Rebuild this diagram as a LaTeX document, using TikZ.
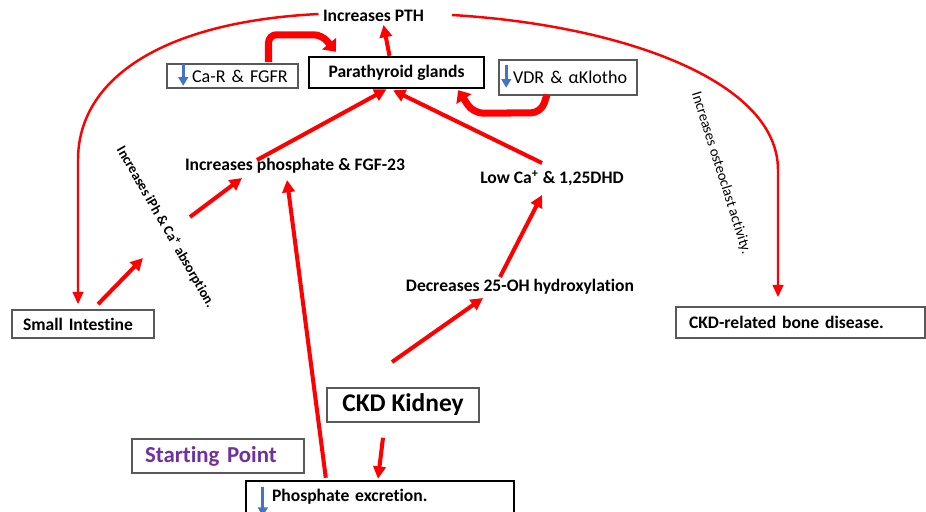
\documentclass[tikz,border=0pt]{standalone}
\usepackage{fontspec}
\setmainfont{Carlito}[Ligatures=NoCommon]
\usepackage{tikz}
\usetikzlibrary{arrows.meta, positioning, calc}
\usepackage{xcolor}
\definecolor{flowRed}   {HTML}{FF0000}
\definecolor{flowBlue}  {HTML}{4472C4}
\definecolor{flowPurple}{HTML}{7030A0}
\definecolor{boxGray}   {HTML}{595959}
\tikzset{
  box/.style    = {rectangle, draw=boxGray, line width=0.9pt, inner sep=0pt,
                   font=\fontsize{10.3}{12}\selectfont},
  bbox/.style   = {box, draw=black, line width=1.4pt,
                   font=\bfseries\fontsize{10}{12}\selectfont},
  label/.style  = {inner sep=1pt, font=\bfseries\fontsize{10}{12}\selectfont},
  redarr/.style = {-{Triangle[length=7pt, width=7pt]}, line width=2.3pt, color=flowRed},
  curvearr/.style={-{Triangle[length=7pt, width=6pt]}, line width=1.4pt, color=flowRed},
  fatarr/.style = {-{Triangle[length=6pt, width=10pt]}, line width=4pt, color=flowRed},
  bluearr/.style= {-{Triangle[length=5pt, width=5.5pt]}, line width=1.7pt, color=flowBlue},
}

\begin{document}
\begin{tikzpicture}[x=0.02cm, y=-0.02cm]
    \useasboundingbox (0,0) rectangle (926,511);

    % boxes
    \node[bbox, minimum width=3.5cm, minimum height=0.62cm] (glands) at (396.5,72.5)
      {Parathyroid glands};
    \node[box, minimum width=2.62cm, minimum height=0.48cm, text width=2.62cm, align=left]
      (carbox) at (232.5,76) {\hspace*{0.5cm}Ca-R \& FGFR};
    \node[box, minimum width=2.76cm, minimum height=0.7cm, text width=2.76cm, align=left]
      (vdr) at (568,77.5) {\hspace*{0.28cm}VDR \& αKlotho\\[3pt]};
    \node[box, font=\bfseries\fontsize{10}{12}\selectfont, minimum width=2.84cm,
      minimum height=0.56cm, text width=2.84cm, align=left]
      (intestine) at (83,324) {\hspace*{0.22cm}Small Intestine};
    \node[box, font=\bfseries\fontsize{10}{12}\selectfont, minimum width=4.98cm,
      minimum height=0.62cm, text width=4.98cm, align=left]
      (bone) at (800.5,322.5) {\hspace*{0.26cm}CKD-related bone disease.};
    \node[box, font=\bfseries\fontsize{14.5}{17}\selectfont, minimum width=3.04cm,
      minimum height=0.68cm] (kidney) at (403,405) {CKD Kidney};
    \node[box, font=\bfseries\fontsize{13}{15}\selectfont, text=flowPurple,
      minimum width=3.44cm, minimum height=0.68cm, text width=3.44cm, align=left]
      (start) at (218,456) {\hspace*{0.26cm}Starting Point};
    \node[bbox, minimum width=5.36cm, minimum height=0.64cm, text width=5.36cm, align=left]
      (excr) at (380,497) {\hspace*{0.52cm}Phosphate excretion.\\[2pt]};

    % plain labels
    \node[label] (pth)   at (373.5,16) {Increases PTH};
    \node[label] (phos)  at (295,166)  {Increases phosphate \& FGF-23};
    \node[label] (lowca) at (552,178)  {Low Ca\textsuperscript{+} \& 1,25DHD};
    \node[label] (decr)  at (520,287)  {Decreases 25-OH hydroxylation};
    \node[label, font=\bfseries\fontsize{8}{10}\selectfont, rotate=-60] (absorb) at (166,227)
      {Increases iPh \& Ca\textsuperscript{+} absorption.};
    \node[label, font=\fontsize{8.4}{10}\selectfont, rotate=-72.5] (osteo) at (721,173)
      {Increases osteoclast activity.};

    \coordinate (lbend) at (78,160);
    \coordinate (rbend) at (778,170);
    \coordinate (absorbA) at (143,258);
    \coordinate (absorbB) at (190,217);
    \coordinate (kidneyout) at (392,362);

    % red connectors
    \draw[redarr] ($(glands.north)+(-7,0)$) -- ($(pth)+(10,9)$);
    \draw[curvearr, shorten >=0.1cm] ($(pth)+(-55,-2)$) .. controls (160,22) and (78,80) .. (lbend)
      -- (lbend |- intestine.north);
    \draw[curvearr, shorten >=0.18cm] ($(pth)+(78.5,-1)$) .. controls (620,25) and (778,80) .. (rbend)
      -- (rbend |- bone.north);
    \draw[redarr] ($(intestine.north)+(15,-5)$) -- (absorbA);
    \draw[redarr] (absorbB) -- ($(phos)+(-53,12)$);
    \draw[redarr] ($(phos)+(-38,-6)$) -- ($(glands.south)+(-10,0)$);
    \draw[redarr] ($(lowca)+(-10,-15)$) -- ($(glands.south)+(-3.5,1)$);
    \draw[redarr] ($(decr)+(-20,-10)$) -- ($(lowca)+(-10,17)$);
    \draw[redarr] (kidneyout) -- ($(decr)+(-37,11)$);
    \draw[redarr] ($(excr.north west)+(81,-2)$) -- ($(phos)+(-8,14)$);
    \draw[redarr] ($(kidney.south)+(-20,15)$) -- ($(excr.north)+(-2,-1)$);

    % feedback loops
    \draw[fatarr, rounded corners=0.16cm] ($(carbox.north)+(36,-1)$)
      |- ($(glands.north west)+(14,-21)$) -- ($(glands.north west)+(28,-4)$);
    \draw[fatarr, rounded corners=0.2cm] ($(vdr.south)+(-21,-1)$)
      -- ($(vdr.south)+(-27,17)$) -- ($(glands.south east)+(-12,24)$)
      -- ($(glands.south east)+(-27,1)$);

    % blue arrows
    \draw[bluearr] ($(carbox.north west)+(17,1)$) -- ($(carbox.south west)+(17,-3)$);
    \draw[bluearr] ($(vdr.north west)+(8,6)$) -- ($(vdr.south west)+(8,-8)$);
    \draw[bluearr] ($(excr.north west)+(18,7)$) -- ($(excr.south west)+(18,2)$);
  \end{tikzpicture}
\end{document}
